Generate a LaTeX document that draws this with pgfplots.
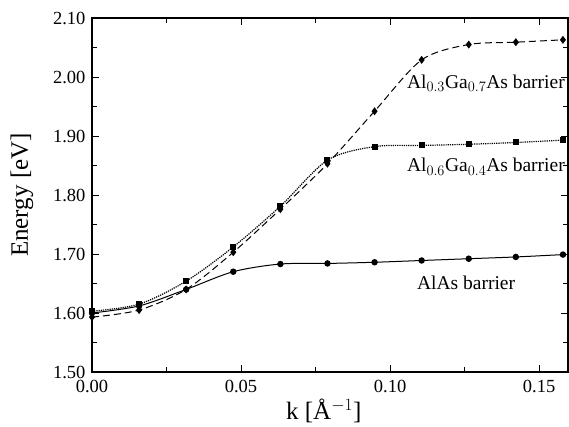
\documentclass[border=0pt]{standalone}
\usepackage{fontspec}
\setmainfont{Liberation Serif}
\usepackage{pgfplots}
\pgfplotsset{compat=1.18}
\usepackage{pgfplotstable}

% k [1/A], AlAs, Al0.6Ga0.4As, Al0.3Ga0.7As
\pgfplotstableread{
k       alas   alsix  althree
0.0000  1.600  1.603  1.593
0.0158  1.612  1.615  1.605
0.0316  1.640  1.654  1.640
0.0474  1.670  1.712  1.703
0.0632  1.683  1.781  1.776
0.0790  1.684  1.859  1.853
0.0948  1.686  1.882  1.942
0.1106  1.689  1.884  2.029
0.1264  1.692  1.886  2.055
0.1422  1.695  1.889  2.059
0.1580  1.699  1.893  2.063
}\bands

\begin{document}
\begin{tikzpicture}
\begin{axis}[
    scale only axis,
    width=476pt, height=354pt,
    xmin=0, xmax=0.1597,
    ymin=1.5, ymax=2.1,
    xtick={0,0.05,0.1,0.15},
    ytick={1.5,1.6,...,2.1},
    minor x tick num=1,
    minor y tick num=1,
    tick align=inside,
    major tick length=7pt, minor tick length=5pt,
    axis line style={line width=1.3pt},
    every tick/.style={black, line width=0.8pt},
    tick label style={font=\fontsize{18.5}{18.5}\selectfont},
    /pgf/number format/assume math mode=true,
    xticklabel style={yshift=-5pt, /pgf/number format/.cd,fixed,fixed zerofill,precision=2},
    yticklabel style={xshift=-3pt, /pgf/number format/.cd,fixed,fixed zerofill,precision=2},
    scaled x ticks=false,
    xlabel={k [\AA$^{-1}$]},
    ylabel={Energy [eV]},
    label style={font=\fontsize{25}{25}\selectfont},
    xlabel style={at={(axis description cs:0.487,-0.110)}, anchor=center},
    ylabel style={at={(axis description cs:-0.147,0.5)}, anchor=center},
    clip=false,
]
\addplot[black, line width=1pt, smooth, tension=0.5, mark=*, mark size=2.7pt]
    table[x=k, y=alas] {\bands};
\addplot[black, line width=1.2pt, densely dotted, smooth, tension=0.5, mark=square*, mark size=2.4pt, mark options={solid}]
    table[x=k, y=alsix] {\bands};
\addplot[black, line width=1pt, dashed, dash pattern=on 7pt off 4pt, smooth, tension=0.5, mark=diamond*, mark size=3.2pt, mark options={solid}]
    table[x=k, y=althree] {\bands};

\node[anchor=east, inner sep=0pt, font=\fontsize{19.5}{19.5}\selectfont] at ([xshift=-3pt]axis cs:0.1597,1.99) {Al$_{0.3}$Ga$_{0.7}$As barrier};
\node[anchor=east, inner sep=0pt, font=\fontsize{19.5}{19.5}\selectfont] at ([xshift=-3pt]axis cs:0.1597,1.848) {Al$_{0.6}$Ga$_{0.4}$As barrier};
\node[anchor=west, inner sep=0pt, font=\fontsize{19.5}{19.5}\selectfont] at (axis cs:0.109,1.651) {AlAs barrier};

% fix the page to the reference's margins
\path (rel axis cs:0,0) ++(-92pt,-53pt) (rel axis cs:1,1) ++(1pt,18pt);
\end{axis}
\end{tikzpicture}
\end{document}
